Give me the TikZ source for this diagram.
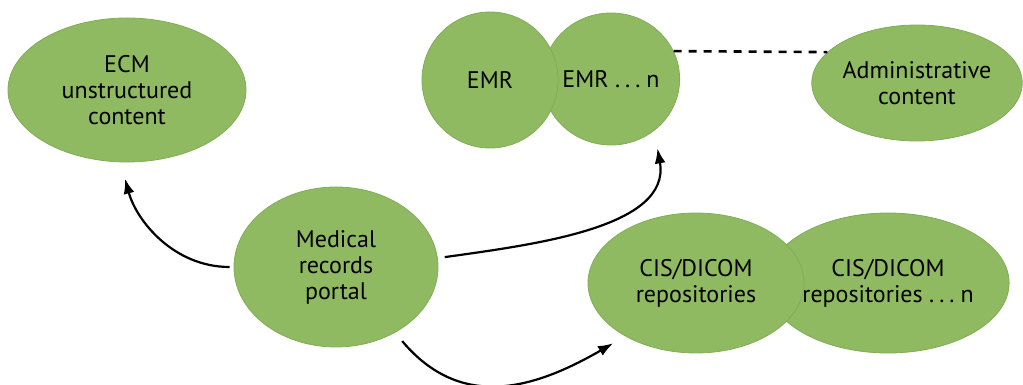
\documentclass[tikz,border=0pt]{standalone}
\usepackage{fontspec}
\setmainfont{PT Sans}
\usetikzlibrary{shapes.geometric,arrows.meta}
\definecolor{leafgreen}{HTML}{8FBA62}
\definecolor{leafedge}{HTML}{80AD57}
\newcommand{\moredots}{.\hspace{5pt}.\hspace{5pt}.\hspace{6pt}n}

\begin{document}
\begin{tikzpicture}[x=1pt,y=1pt,
    blob/.style={ellipse, fill=leafgreen, draw=leafedge, line width=0.8pt,
        inner sep=0pt, align=center, font=\fontsize{24}{26}\selectfont},
    link/.style={line width=2.2pt, -{Latex[length=15pt,width=11pt]}}]
    \useasboundingbox (0,0) rectangle (1023,385);

    % stores
    \node [blob, minimum width=238pt, minimum height=144pt] (ecm)
        at (127,295) {ECM\\unstructured\\content};
    \node [blob, minimum width=132pt, minimum height=132pt] (emrn)
        at (611,306) {EMR \moredots};
    \node [blob, minimum width=136pt, minimum height=136pt] (emr)
        at (490,305) {EMR};
    \node [blob, minimum width=210pt, minimum height=116pt] (admin)
        at (917,302) {Administrative\\content};
    \node [blob, minimum width=208pt, minimum height=140pt] (cisn)
        at (888,102) {CIS/DICOM\\repositories \moredots};
    \node [blob, minimum width=216pt, minimum height=140pt] (cis)
        at (696,102) {CIS/DICOM\\repositories};

    % portal
    \node [blob, minimum width=204pt, minimum height=160pt] (portal)
        at (336,118) {Medical\\records\\portal};

    \draw [line width=2.6pt, dash pattern=on 8pt off 7pt]
        (emrn.24) -- (admin.161);

    \draw [link, shorten <=4pt, shorten >=17pt]
        (portal.west) to[out=180,in=-75] (ecm.-95);
    \draw [link, shorten <=7pt, shorten >=18pt]
        (portal.5) to[out=8,in=-80] (emrn.-50);
    \draw [link, shorten <=11pt, shorten >=14pt]
        (portal.-48) to[out=-50,in=210,looseness=1.15] (cis.217);
\end{tikzpicture}
\end{document}
